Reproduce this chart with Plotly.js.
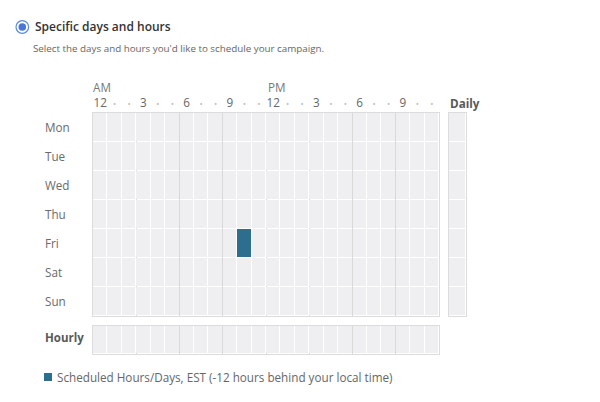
<!DOCTYPE html>
<html>
<head>
<meta charset="utf-8">
<script src="https://cdn.plot.ly/plotly-3.0.1.min.js"></script>
<style>html,body{margin:0;padding:0;background:#fff;}#chart{width:600px;height:402px;}</style>
</head>
<body>
<div id="chart"></div>
<script>
// ---- data ----
var days = ['Mon', 'Tue', 'Wed', 'Thu', 'Fri', 'Sat', 'Sun'];
var hours = [0, 1, 2, 3, 4, 5, 6, 7, 8, 9, 10, 11, 12, 13, 14, 15, 16, 17, 18, 19, 20, 21, 22, 23];
var hourLabels = ['12', '', '', '3', '', '', '6', '', '', '9', '', '', '12', '', '', '3', '', '', '6', '', '', '9', '', ''];
var scheduledDays = ['Fri'];
var scheduledHours = [10];
var dailyScheduled = [0, 0, 0, 0, 0, 0, 0];
var hourlyScheduled = [0, 0, 0, 0, 0, 0, 0, 0, 0, 0, 0, 0, 0, 0, 0, 0, 0, 0, 0, 0, 0, 0, 0, 0];
var legendText = 'Scheduled Hours/Days, EST (-12 hours behind your local time)';

// ---- build ----
var W = 600, H = 402;
function px(x) { return x / W; }
function py(y) { return 1 - y / H; }

var z = days.map(function (d) {
  return hours.map(function (h) {
    for (var i = 0; i < scheduledDays.length; i++) {
      if (scheduledDays[i] === d && scheduledHours[i] === h) return 1;
    }
    return 0;
  });
});

var dot = '<span style="color:#c2c2c2;font-size:8.5px">•</span>';
var tickText = hourLabels.map(function (t) { return t === '' ? dot : t; });

var CELL = '#efeff1', BLUE = '#2d6e8e', BORDER = '#dcdcdc', MAJOR = '#d9d9d9';
var cs = [[0, CELL], [1, BLUE]];
var boundaries = [2.5, 5.5, 8.5, 11.5, 14.5, 17.5, 20.5];
var FONT = 'Open Sans';

var traces = [
  {type: 'heatmap', x: hours, y: days, z: z, xaxis: 'x', yaxis: 'y',
   colorscale: cs, zmin: 0, zmax: 1, showscale: false, xgap: 1, ygap: 1, hoverinfo: 'skip'},
  {type: 'heatmap', x: ['Daily'], y: days, z: dailyScheduled.map(function (v) { return [v]; }),
   xaxis: 'x2', yaxis: 'y2', colorscale: cs, zmin: 0, zmax: 1, showscale: false, xgap: 1, ygap: 1, hoverinfo: 'skip'},
  {type: 'heatmap', x: hours, y: ['Hourly'], z: [hourlyScheduled], xaxis: 'x3', yaxis: 'y3',
   colorscale: cs, zmin: 0, zmax: 1, showscale: false, xgap: 1, ygap: 1, hoverinfo: 'skip'}
];

var frame = {showline: true, mirror: true, linecolor: BORDER, linewidth: 1, zeroline: false, fixedrange: true};

var annotations = [];
days.forEach(function (d) {
  annotations.push({xref: 'paper', yref: 'y', x: px(43), y: d, xanchor: 'left', yanchor: 'middle',
    text: d, showarrow: false, yshift: 1, font: {family: FONT, size: 11.7, color: '#6a6a6a'}});
});
annotations.push({xref: 'paper', yref: 'y3', x: px(43), y: 'Hourly', xanchor: 'left', yanchor: 'middle',
  text: '<b>Hourly</b>', showarrow: false, yshift: 3, font: {family: FONT, size: 11.5, color: '#595959'}});
annotations.push({xref: 'paper', yref: 'paper', x: px(448), y: py(103), xanchor: 'left', yanchor: 'middle',
  text: '<b>Daily</b>', showarrow: false, font: {family: FONT, size: 11.7, color: '#595959'}});
annotations.push({xref: 'x', yref: 'paper', x: -0.5, y: py(87), xanchor: 'left', yanchor: 'middle',
  text: 'AM', showarrow: false, xshift: -2, font: {family: FONT, size: 11.7, color: '#777'}});
annotations.push({xref: 'x', yref: 'paper', x: 11.5, y: py(87), xanchor: 'left', yanchor: 'middle',
  text: 'PM', showarrow: false, xshift: 0, font: {family: FONT, size: 11.7, color: '#777'}});
annotations.push({xref: 'paper', yref: 'paper', x: px(33), y: py(26), xanchor: 'left', yanchor: 'middle',
  text: 'Specific days and hours', showarrow: false,
  font: {family: FONT, size: 12, color: '#333', weight: 600}});
annotations.push({xref: 'paper', yref: 'paper', x: px(31), y: py(48), xanchor: 'left', yanchor: 'middle',
  text: 'Select the days and hours you\'d like to schedule your campaign.', showarrow: false,
  font: {family: FONT, size: 9.8, color: '#666'}});
annotations.push({xref: 'paper', yref: 'paper', x: px(55), y: py(377), xanchor: 'left', yanchor: 'middle',
  text: legendText, showarrow: false, font: {family: FONT, size: 11.7, color: '#666'}});

var shapes = [
  {type: 'circle', xref: 'paper', yref: 'paper', x0: px(16), x1: px(28.6), y0: py(20.7), y1: py(33.3),
   line: {color: '#5b8bd9', width: 1.2}, fillcolor: '#fff'},
  {type: 'circle', xref: 'paper', yref: 'paper', x0: px(18.5), x1: px(26.1), y0: py(23.2), y1: py(30.8),
   line: {width: 0}, fillcolor: '#4b76d6'},
  {type: 'rect', xref: 'paper', yref: 'paper', x0: px(44), x1: px(52), y0: py(373), y1: py(381),
   line: {width: 0}, fillcolor: BLUE}
];

var layout = {
  width: W, height: H,
  margin: {l: 0, r: 0, t: 0, b: 0},
  paper_bgcolor: '#fff', plot_bgcolor: '#fff',
  showlegend: false,
  font: {family: FONT, size: 12, color: '#666'},
  xaxis: Object.assign({}, frame, {domain: [px(93), px(439)], anchor: 'y', side: 'top', range: [-0.5, 23.5],
    tickmode: 'array', tickvals: hours, ticktext: tickText, ticks: '', ticklen: 0,
    tickfont: {family: FONT, size: 11.7, color: '#666'}, showgrid: false,
    minor: {tickmode: 'array', tickvals: boundaries, showgrid: true, gridcolor: MAJOR, gridwidth: 1, ticks: ''}}),
  yaxis: Object.assign({}, frame, {domain: [py(316), py(113)], anchor: 'x', type: 'category',
    categoryorder: 'array', categoryarray: days, range: [6.5, -0.5], showticklabels: false, showgrid: false, ticks: ''}),
  xaxis2: Object.assign({}, frame, {domain: [px(449), px(466)], anchor: 'y2', range: [-0.5, 0.5],
    showticklabels: false, showgrid: false, ticks: ''}),
  yaxis2: Object.assign({}, frame, {domain: [py(316), py(113)], anchor: 'x2', type: 'category',
    categoryorder: 'array', categoryarray: days, range: [6.5, -0.5], showticklabels: false, showgrid: false, ticks: ''}),
  xaxis3: Object.assign({}, frame, {domain: [px(93), px(439)], anchor: 'y3', range: [-0.5, 23.5],
    showticklabels: false, showgrid: false, ticks: '',
    minor: {tickmode: 'array', tickvals: boundaries, showgrid: true, gridcolor: MAJOR, gridwidth: 1, ticks: ''}}),
  yaxis3: Object.assign({}, frame, {domain: [py(354), py(326)], anchor: 'x3', type: 'category',
    range: [-0.5, 0.5], showticklabels: false, showgrid: false, ticks: ''}),
  annotations: annotations,
  shapes: shapes
};

Plotly.newPlot('chart', traces, layout, {displayModeBar: false, staticPlot: true});
</script>
</body>
</html>
